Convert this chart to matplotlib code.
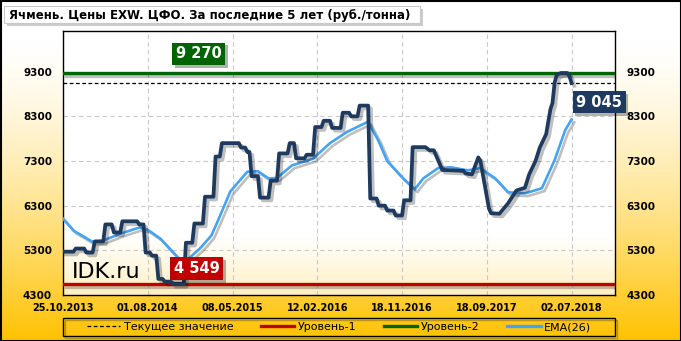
import matplotlib.pyplot as plt
import matplotlib.patheffects as pe
from matplotlib.lines import Line2D
from matplotlib.patches import Rectangle
import numpy as np

# weekly index, 0 = 25.10.2013
tick_pos = [0, 40, 80, 120, 160, 200, 240]
tick_labels = ["25.10.2013", "01.08.2014", "08.05.2015", "12.02.2016",
               "18.11.2016", "18.09.2017", "02.07.2018"]
y_ticks = [4300, 5300, 6300, 7300, 8300, 9300]

# price (rub/t), vertices
price_x = [0, 5, 6, 10, 11, 14, 15, 19, 20, 23, 24, 27, 28, 35, 36, 38, 39, 41,
           42, 44, 45, 47, 48, 51, 52, 57, 58, 61, 62, 66, 67, 71, 72, 74, 75, 83,
           84, 86, 87, 88, 89, 92, 93, 97, 98, 101, 102, 106, 107, 109, 110, 114,
           115, 118, 119, 122, 123, 126, 127, 131, 132, 135, 136, 139, 140, 144,
           145, 148, 149, 152, 153, 156, 157, 160, 161, 164, 165, 171, 173, 175,
           179, 189, 190, 193, 196, 197, 201, 202, 206, 210, 214, 218, 220, 223,
           225, 228, 230, 231, 232, 233, 235, 238, 239, 240]
price_y = [5270, 5270, 5340, 5340, 5250, 5250, 5500, 5500, 5880, 5880, 5700, 5700,
           5950, 5950, 5880, 5880, 5250, 5250, 5180, 5180, 4660, 4660, 4600, 4600,
           4549, 4549, 5470, 5470, 5900, 5900, 6500, 6500, 7400, 7400, 7700, 7700,
           7600, 7600, 7500, 7500, 6960, 6960, 6480, 6480, 6860, 6860, 7470, 7470,
           7700, 7700, 7360, 7360, 7440, 7440, 8060, 8060, 8200, 8200, 8040, 8040,
           8380, 8380, 8300, 8300, 8540, 8540, 6460, 6460, 6300, 6300, 6190, 6190,
           6080, 6080, 6420, 6420, 7610, 7610, 7540, 7540, 7100, 7080, 7020, 7000,
           7380, 7300, 6240, 6130, 6120, 6350, 6640, 6700, 7000, 7300, 7600, 7900,
           8450, 8600, 9050, 9230, 9270, 9270, 9200, 9045]

ema_x = [0, 5, 14, 19, 27, 36, 40, 46, 51, 55, 59, 65, 70, 73, 79, 87, 92, 97, 101,
         108, 118, 126, 134, 144, 149, 153, 160, 166, 170, 177, 183, 191, 197, 204,
         210, 218, 226, 232, 237, 240]
ema_y = [6010, 5740, 5490, 5520, 5670, 5810, 5760, 5560, 5300, 5100, 5100, 5360,
         5630, 5950, 6620, 7060, 7070, 6910, 6920, 7200, 7350, 7700, 7950, 8180,
         7740, 7300, 6935, 6665, 6910, 7140, 7160, 7090, 7140, 6910, 6600, 6575,
         6690, 7320, 7990, 8230]

level_1 = 4549
level_2 = 9270
current = 9045

W, H = 681, 341
fig = plt.figure(figsize=(W / 100, H / 100), dpi=100)

# background gradient + frame
bg = fig.add_axes([0, 0, 1, 1])
rows = np.arange(H)
t = np.clip((rows - 40) / 300, 0, 1) ** 1.4
top = np.array([1.0, 1.0, 1.0])
bot = np.array([1.0, 0.76, 0.0])
grad = top[None, :] * (1 - t[:, None]) + bot[None, :] * t[:, None]
bg.imshow(grad[:, None, :], extent=[0, W, H, 0], aspect='auto')
bg.set_xlim(0, W)
bg.set_ylim(H, 0)
bg.axis('off')
bg.add_patch(Rectangle((0.5, 0.5), W - 1, H - 1, fill=False, ec='black', lw=1.5))

# title box
bg.add_patch(Rectangle((7, 9), 416, 17, fc='#aaaaaa', ec='none', alpha=0.6))
bg.add_patch(Rectangle((4, 6), 416, 17, fc='white', ec='#c8c8c8', lw=0.8))
bg.text(9, 15, "Ячмень. Цены EXW. ЦФО. За последние 5 лет (руб./тонна)",
        fontsize=8.5, fontweight='bold', va='center', ha='left')

# legend frame
bg.add_patch(Rectangle((63, 318), 552, 18, fill=False, ec='black', lw=1,
                       path_effects=[pe.SimpleLineShadow(offset=(1.5, -1.5), alpha=0.25),
                                     pe.Normal()]))

ax = fig.add_axes([63 / W, 1 - 295 / H, 552 / W, 264 / H])
xmax, ymin, ymax = 260.5, 4300, 10210

# pale yellow fade at the bottom of plot area
prow = np.linspace(0, 1, 200)
pt = np.clip((prow - 0.78) / 0.22, 0, 1)
pgrad = np.array([1, 1, 1])[None, :] * (1 - pt[:, None]) + np.array([1, 0.94, 0.76])[None, :] * pt[:, None]
ax.imshow(pgrad[:, None, :], extent=[0, xmax, ymin, ymax], aspect='auto', zorder=0)
ax.set_xlim(0, xmax)
ax.set_ylim(ymin, ymax)

ax.set_xticks(tick_pos)
ax.set_xticklabels(tick_labels, fontsize=7, fontweight='bold')
ax.set_yticks(y_ticks)
ax.set_yticklabels([str(v) for v in y_ticks], fontsize=7.5, fontweight='bold')
ax.tick_params(axis='y', length=0, pad=8, labelright=True)
ax.tick_params(axis='x', length=0, pad=6)
ax.grid(True, color='#c8c8c8', ls=(0, (4, 3)), lw=0.8)
ax.set_axisbelow(True)
for s in ax.spines.values():
    s.set_color('black')
    s.set_linewidth(1)

shadow = [pe.SimpleLineShadow(offset=(2, -2), shadow_color='black', alpha=0.25), pe.Normal()]

ax.axhline(level_2, color='#006400', lw=2.4, path_effects=shadow, zorder=3)
ax.axhline(level_1, color='#c00000', lw=2.4, path_effects=shadow, zorder=3)
ax.axhline(current, color='black', lw=0.9, ls=(0, (3, 2)), zorder=3)
ax.plot(ema_x, ema_y, color='#45a3f5', lw=1.9, path_effects=shadow, zorder=4)
ax.plot(price_x, price_y, color='#1f3a5f', lw=2.7, path_effects=shadow, zorder=5,
        solid_joinstyle='round')

ax.text(4, 4690, "IDK.ru", fontsize=16, va='baseline', ha='left', zorder=6)


def tag(x, y, s, color):
    txt = ax.text(x, y, s, ha='center', va='center', fontsize=10.5, fontweight='bold',
                  color='white', bbox=dict(boxstyle='square,pad=0.25', fc=color, ec='none'),
                  zorder=9, clip_on=False)
    txt.get_bbox_patch().set_path_effects(
        [pe.withSimplePatchShadow(offset=(2, -2), shadow_rgbFace='black', alpha=0.3)])


tag(64, 9700, "9 270", '#006400')
tag(63, 4890, "4 549", '#c00000')
tag(253, 8620, "9 045", '#1f3a5f')

handles = [Line2D([], [], color='black', ls=(0, (3, 2)), lw=0.9),
           Line2D([], [], color='#c00000', lw=2.4),
           Line2D([], [], color='#006400', lw=2.4),
           Line2D([], [], color='#45a3f5', lw=2.4)]
labels = ["Текущее значение", "Уровень-1", "Уровень-2", "EMA(26)"]
leg = fig.legend(handles, labels, loc='center', ncol=4,
                 bbox_to_anchor=(339 / W, 1 - 327 / H), fontsize=8,
                 handlelength=3, handletextpad=0.3, columnspacing=2.5,
                 borderaxespad=0, borderpad=0.2, frameon=False)

fig.savefig("out.png", dpi=100)
